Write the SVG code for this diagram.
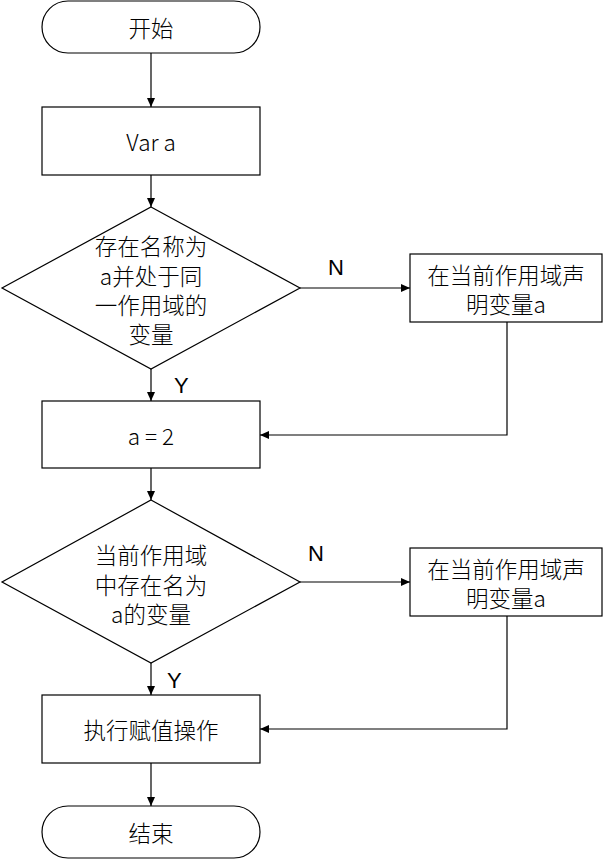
<svg xmlns="http://www.w3.org/2000/svg" width="605" height="862" viewBox="0 0 605 862">
<style>
.s{fill:#fff;stroke:#000;stroke-width:1.2}
.c{fill:none;stroke:#000;stroke-width:1.2}
text{font-family:"Noto Sans CJK SC","Microsoft YaHei",sans-serif;font-size:22.5px;font-weight:300;fill:#000;text-anchor:middle;dominant-baseline:central}
.l{font-family:"Liberation Sans","Noto Sans",sans-serif;font-size:22px;text-anchor:start;font-weight:normal}
</style>
<defs>
<marker id="ah" markerWidth="10" markerHeight="10" refX="9" refY="4" orient="auto" markerUnits="userSpaceOnUse">
<path d="M0,0 L9,4 L0,8 Z" fill="#000"/>
</marker>
</defs>
<rect width="605" height="862" fill="#fff"/>
<g id="connectors">
<path class="c" d="M151,53 V107" marker-end="url(#ah)"/>
<path class="c" d="M151,175 V207" marker-end="url(#ah)"/>
<path class="c" d="M300,288 H410" marker-end="url(#ah)"/>
<path class="c" d="M151,369 V401" marker-end="url(#ah)"/>
<path class="c" d="M507,322 V435 H260" marker-end="url(#ah)"/>
<path class="c" d="M151,468 V500" marker-end="url(#ah)"/>
<path class="c" d="M300,582 H410" marker-end="url(#ah)"/>
<path class="c" d="M151,663 V695" marker-end="url(#ah)"/>
<path class="c" d="M507,616 V729 H260" marker-end="url(#ah)"/>
<path class="c" d="M151,763 V806" marker-end="url(#ah)"/>
<text class="l" x="328" y="267">N</text>
<text class="l" x="174" y="385">Y</text>
<text class="l" x="308" y="553">N</text>
<text class="l" x="167" y="680">Y</text>
</g>
<g id="start">
<rect class="s" x="42" y="1" width="218" height="52" rx="26" ry="26"/>
<text x="151" y="27">开始</text>
</g>
<g id="var">
<rect class="s" x="42" y="107" width="218" height="68"/>
<text x="151" y="141">Var a</text>
</g>
<g id="dec1">
<polygon class="s" points="151,207 300,288 151,369 2,288"/>
<text x="151" y="245">存在名称为<tspan x="151" dy="29.5">a并处于同</tspan><tspan x="151" dy="29">一作用域的</tspan><tspan x="151" dy="29">变量</tspan></text>
</g>
<g id="decl1">
<rect class="s" x="410" y="254" width="192" height="68"/>
<text x="506" y="274">在当前作用域声<tspan x="506" dy="29">明变量a</tspan></text>
</g>
<g id="assign">
<rect class="s" x="42" y="401" width="218" height="67"/>
<text x="151" y="435">a = 2</text>
</g>
<g id="dec2">
<polygon class="s" points="151,500 300,582 151,663 2,582"/>
<text x="151" y="554">当前作用域<tspan x="151" dy="29.5">中存在名为</tspan><tspan x="151" dy="29.5">a的变量</tspan></text>
</g>
<g id="decl2">
<rect class="s" x="410" y="548" width="192" height="68"/>
<text x="506" y="568">在当前作用域声<tspan x="506" dy="29">明变量a</tspan></text>
</g>
<g id="exec">
<rect class="s" x="42" y="695" width="218" height="68"/>
<text x="151" y="729">执行赋值操作</text>
</g>
<g id="end">
<rect class="s" x="42" y="806" width="218" height="52" rx="26" ry="26"/>
<text x="151" y="832">结束</text>
</g>
</svg>
